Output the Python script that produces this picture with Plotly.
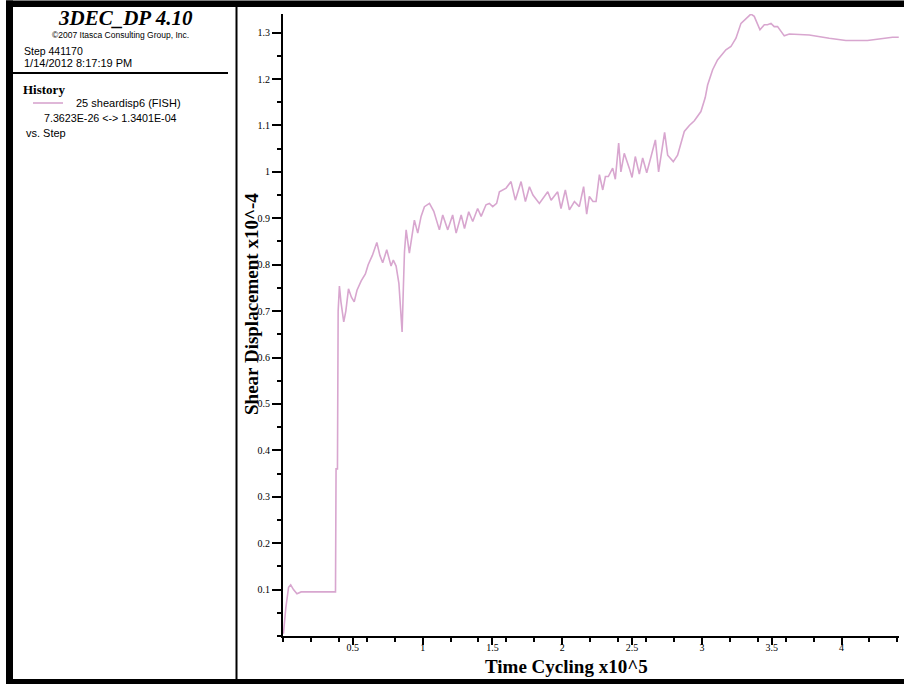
import plotly.graph_objects as go

# ---- data (x in 1e5 steps, y in 1e-4) ----
step_x = [0.003, 0.02, 0.04, 0.055, 0.075, 0.10, 0.13, 0.376, 0.380, 0.390, 0.395, 0.404, 0.415, 0.435,
          0.45, 0.469, 0.49, 0.51, 0.53, 0.56, 0.59, 0.61, 0.64, 0.672, 0.694, 0.714, 0.743, 0.774,
          0.79, 0.81, 0.83, 0.853, 0.862, 0.870, 0.882, 0.905, 0.941, 0.965, 0.989, 1.013, 1.049,
          1.08, 1.12, 1.144, 1.18, 1.215, 1.24, 1.276, 1.30, 1.33, 1.359, 1.394, 1.419, 1.454,
          1.478, 1.502, 1.53, 1.55, 1.598, 1.633, 1.664, 1.705, 1.736, 1.765, 1.79, 1.836, 1.896,
          1.92, 1.967, 1.991, 2.022, 2.051, 2.087, 2.122, 2.153, 2.175, 2.194, 2.22, 2.242, 2.266,
          2.29, 2.309, 2.33, 2.361, 2.38, 2.404, 2.42, 2.444, 2.48, 2.50, 2.523, 2.552, 2.576,
          2.605, 2.636, 2.667, 2.69, 2.714, 2.733, 2.755, 2.795, 2.826, 2.874, 2.91, 2.946, 2.993,
          3.024, 3.041, 3.077, 3.112, 3.172, 3.208, 3.244, 3.28, 3.316, 3.351, 3.375, 3.399, 3.416,
          3.447, 3.47, 3.495, 3.518, 3.542, 3.566, 3.59, 3.626, 3.769, 3.912, 4.031, 4.186, 4.27,
          4.365, 4.41]
shear_disp = [0.005, 0.06, 0.105, 0.110, 0.100, 0.091, 0.095, 0.095, 0.36, 0.36, 0.70, 0.754, 0.72, 0.677,
              0.70, 0.748, 0.73, 0.72, 0.745, 0.765, 0.78, 0.80, 0.82, 0.848, 0.82, 0.804, 0.832, 0.797,
              0.81, 0.797, 0.76, 0.655, 0.75, 0.828, 0.875, 0.825, 0.896, 0.868, 0.904, 0.925, 0.932,
              0.915, 0.875, 0.907, 0.875, 0.907, 0.868, 0.907, 0.878, 0.914, 0.893, 0.921, 0.904, 0.929,
              0.932, 0.925, 0.932, 0.957, 0.965, 0.979, 0.939, 0.979, 0.936, 0.968, 0.95, 0.932, 0.957,
              0.939, 0.957, 0.921, 0.961, 0.918, 0.936, 0.925, 0.968, 0.909, 0.947, 0.936, 0.936, 0.994,
              0.961, 0.990, 0.99, 1.008, 0.984, 1.062, 1.0, 1.040, 1.008, 0.988, 1.033, 0.995, 1.030,
              0.998, 1.033, 1.069, 1.0, 1.044, 1.085, 1.036, 1.022, 1.036, 1.087, 1.100, 1.110, 1.130,
              1.160, 1.187, 1.220, 1.241, 1.263, 1.270, 1.288, 1.320, 1.331, 1.340, 1.335, 1.317, 1.306,
              1.317, 1.317, 1.320, 1.313, 1.313, 1.302, 1.293, 1.297, 1.295, 1.288, 1.283, 1.283, 1.287,
              1.290, 1.290]

x_tickvals = [0.5, 1, 1.5, 2, 2.5, 3, 3.5, 4]
x_ticktext = ["0.5", "1", "1.5", "2", "2.5", "3", "3.5", "4"]
y_tickvals = [0.1, 0.2, 0.3, 0.4, 0.5, 0.6, 0.7, 0.8, 0.9, 1.0, 1.1, 1.2, 1.3]
y_ticktext = ["0.1", "0.2", "0.3", "0.4", "0.5", "0.6", "0.7", "0.8", "0.9", "1", "1.1", "1.2", "1.3"]

W, H = 904, 686
L, R, T, B = 283, 5, 14, 50
PW, PH = W - L - R, H - T - B

def px(x):
    return (x - L) / PW

def py(y):
    return (H - B - y) / PH

LINE = "#D8A6CF"
SERIF = "Liberation Serif"
SANS = "Liberation Sans"

fig = go.Figure()
fig.add_trace(go.Scatter(x=step_x, y=shear_disp, mode="lines",
                         line=dict(color=LINE, width=1.6), showlegend=False, hoverinfo="skip"))

axis_common = dict(showgrid=False, zeroline=False, showline=True, linecolor="black", linewidth=2,
                   ticks="outside", tickcolor="black", tickwidth=2,
                   tickfont=dict(family=SERIF, size=10, color="black"))

fig.update_xaxes(range=[0, 4.4117], tickmode="array", tickvals=x_tickvals, ticktext=x_ticktext,
                 ticklen=7, ticklabelstandoff=-6,
                 minor=dict(tickmode="linear", tick0=0, dtick=0.2, ticklen=4,
                            tickwidth=2, tickcolor="black", ticks="outside"),
                 **axis_common)
fig.update_yaxes(range=[0, 1.3401], tickmode="array", tickvals=y_tickvals, ticktext=y_ticktext,
                 ticklen=9, minor=dict(tickmode="linear", tick0=0, dtick=0.05, ticklen=4,
                                       tickwidth=2, tickcolor="black", ticks="outside"),
                 **axis_common)

shapes = []
def rect(x0, y0, x1, y1, color="black"):
    shapes.append(dict(type="rect", xref="paper", yref="paper", x0=px(x0), x1=px(x1),
                       y0=py(y0), y1=py(y1), fillcolor=color, line=dict(width=0), layer="above"))

rect(6, 0.5, 904, 7)        # top band
rect(6, 679, 904, 684)      # bottom band
rect(6, 0.5, 13, 684)       # left band
rect(235.5, 7, 237.5, 679)  # divider
rect(7, 72, 228, 74)        # separator in left panel
shapes.append(dict(type="line", xref="paper", yref="paper", x0=px(33), x1=px(63),
                   y0=py(103), y1=py(103), line=dict(color=LINE, width=1.6)))

ann = []
def text(x, y, s, size, family=SANS, xanchor="left", angle=0):
    ann.append(dict(x=px(x), y=py(y), xref="paper", yref="paper", text=s, showarrow=False,
                    xanchor=xanchor, yanchor="middle", textangle=angle,
                    font=dict(family=family, size=size, color="black")))

text(125, 18, "<b><i>3DEC_DP 4.10</i></b>", 21, SERIF, "center")
text(120, 35, "©2007 Itasca Consulting Group, Inc.", 8.5, SANS, "center")
text(22, 51, "Step 441170", 10.5)
text(22, 63, "1/14/2012 8:17:19 PM", 11)
text(21, 89, "<b>History</b>", 13, SERIF)
text(74, 103, "25 sheardisp6 (FISH)", 11)
text(42, 118, "7.3623E-26 <-> 1.3401E-04", 10.7)
text(24, 133, "vs. Step", 11)
text(566, 666, "<b>Time Cycling x10^5</b>", 19, SERIF, "center")
text(251, 304, "<b>Shear Displacement x10^-4</b>", 19, SERIF, "center", -90)

fig.update_layout(width=W, height=H, margin=dict(l=L, r=R, t=T, b=B, pad=0),
                  plot_bgcolor="white", paper_bgcolor="white", shapes=shapes, annotations=ann)

fig.write_html("out.html")
